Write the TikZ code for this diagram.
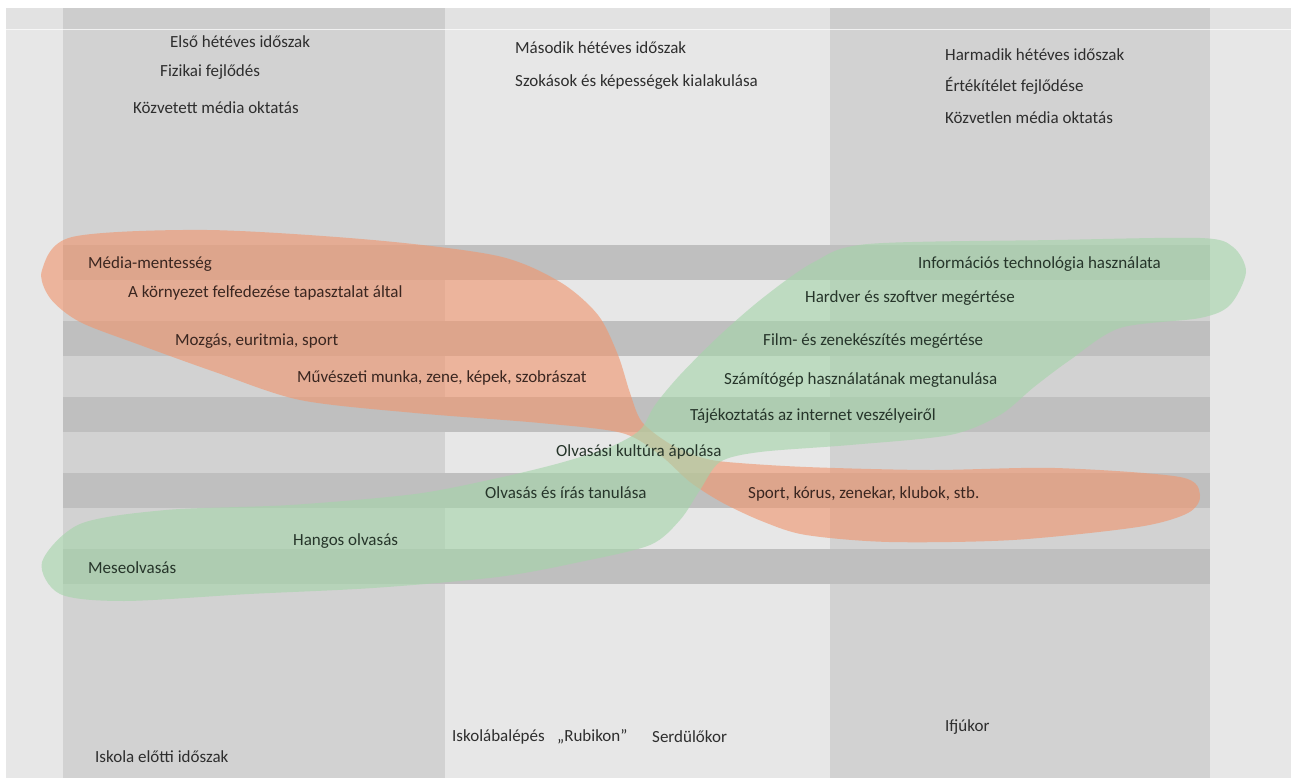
\documentclass[tikz,border=0pt]{standalone}
\usepackage{fontspec}
\setmainfont{Carlito}
\usetikzlibrary{calc,backgrounds,positioning}

\definecolor{tlo}{HTML}{E7E7E7}
\definecolor{kolumna}{HTML}{D2D2D2}
\definecolor{pas}{HTML}{BFBFBF}
\definecolor{pomar}{RGB}{240,150,110}
\definecolor{ziel}{RGB}{165,212,170}
\definecolor{tekst}{HTML}{2E2E2E}
\definecolor{tekstP}{HTML}{3A2620}
\definecolor{tekstZ}{HTML}{26352A}

\begin{document}
\begin{tikzpicture}[x=1pt,y=-1pt,inner sep=0pt,
  opis/.style={anchor=west,text=tekst,font=\fontsize{17}{20}\selectfont},
  opisP/.style={opis,text=tekstP},
  opisZ/.style={opis,text=tekstZ},
  plama/.style={fill opacity=0.62,draw=none}]

\useasboundingbox (0,0) rectangle (1291,778);
\fill[white] (0,0) rectangle (1291,778);
\fill[tlo] (6,8) rectangle (1291,778);
\fill[kolumna] (63,8) rectangle (445,778); %pierwsza kolumna
\fill[kolumna] (830,8) rectangle (1210,778); %trzecia kolumna
\foreach \y in {245,321,397,473,549}
  \fill[pas] (63,\y) rectangle (1210,\y+35); %pasy
\fill[black,opacity=0.02] (6,8) rectangle (1291,29);
\draw[white,line width=1pt,opacity=0.7] (6,30) -- (1291,30);

% plamy
\fill[pomar,plama] plot[smooth cycle,tension=0.5] coordinates {
  (42,270) (72,237) (207,230) (373,240) (498,256) (560,282) (598,315)
  (618,355) (630,393) (642,422) (670,444) (700,457) (727,462) (806,467)
  (930,470) (1055,468) (1180,477) (1200,495) (1188,513) (1138,527)
  (1013,540) (889,542) (806,535) (764,522) (723,503) (690,482) (660,455)
  (622,433) (540,423) (415,413) (300,400) (215,372) (140,345) (80,322)
  (50,298)};
\fill[ziel,plama] plot[smooth cycle,tension=0.5] coordinates {
  (42,562) (80,524) (166,510) (290,505) (415,494) (498,478) (560,463)
  (610,447) (640,430) (655,405) (680,375) (720,335) (764,297) (814,262)
  (868,244) (1055,240) (1200,238) (1233,247) (1246,272) (1230,305)
  (1200,318) (1120,328) (1070,360) (1034,387) (1000,415) (950,435)
  (850,445) (760,452) (720,462) (700,490) (680,520) (650,545) (580,562)
  (498,577) (373,588) (249,594) (124,601) (60,594)};

% naglowki
\node[opis] (n1a) at (170,42) {Első hétéves időszak};
\node[opis] (n1b) at (160,72) {Fizikai fejlődés};
\node[opis] (n1c) at (133,108) {Közvetett média oktatás};
\node[opis] (n2a) at (515,48) {Második hétéves időszak};
\node[opis] (n2b) at (515,82) {Szokások és képességek kialakulása};
\node[opis] (n3a) at (945,55) {Harmadik hétéves időszak};
\node[opis] (n3b) at (945,86) {Értékítélet fejlődése};
\node[opis] (n3c) at (945,118) {Közvetlen média oktatás};

% srodek
\node[opisP] (m1) at (88,264) {Média-mentesség};
\node[opisP] (m2) at (128,293) {A környezet felfedezése tapasztalat által};
\node[opisP] (m3) at (175,341) {Mozgás, euritmia, sport};
\node[opisP] (m4) at (297,378) {Művészeti munka, zene, képek, szobrászat};
\node[opisZ] (i1) at (918,264) {Információs technológia használata};
\node[opisZ] (i2) at (805,298) {Hardver és szoftver megértése};
\node[opisZ] (i3) at (763,341) {Film- és zenekészítés megértése};
\node[opisZ] (i4) at (724,380) {Számítógép használatának megtanulása};
\node[opisZ] (i5) at (690,416) {Tájékoztatás az internet veszélyeiről};
\node[opisZ] (o1) at (556,452) {Olvasási kultúra ápolása};
\node[opisZ] (o2) at (485,493) {Olvasás és írás tanulása};
\node[opisP] (s1) at (748,494) {Sport, kórus, zenekar, klubok, stb.};
\node[opisZ] (o3) at (293,541) {Hangos olvasás};
\node[opisZ] (o4) at (88,568) {Meseolvasás};

% dol
\node[opis] (k1) at (95,757) {Iskola előtti időszak};
\node[opis] (k2) at (452,737) {Iskolábalépés};
\node[opis] (k3) at (557,737) {„Rubikon”};
\node[opis] (k4) at (652,737) {Serdülőkor};
\node[opis] (k5) at (945,727) {Ifjúkor};

\end{tikzpicture}
\end{document}
